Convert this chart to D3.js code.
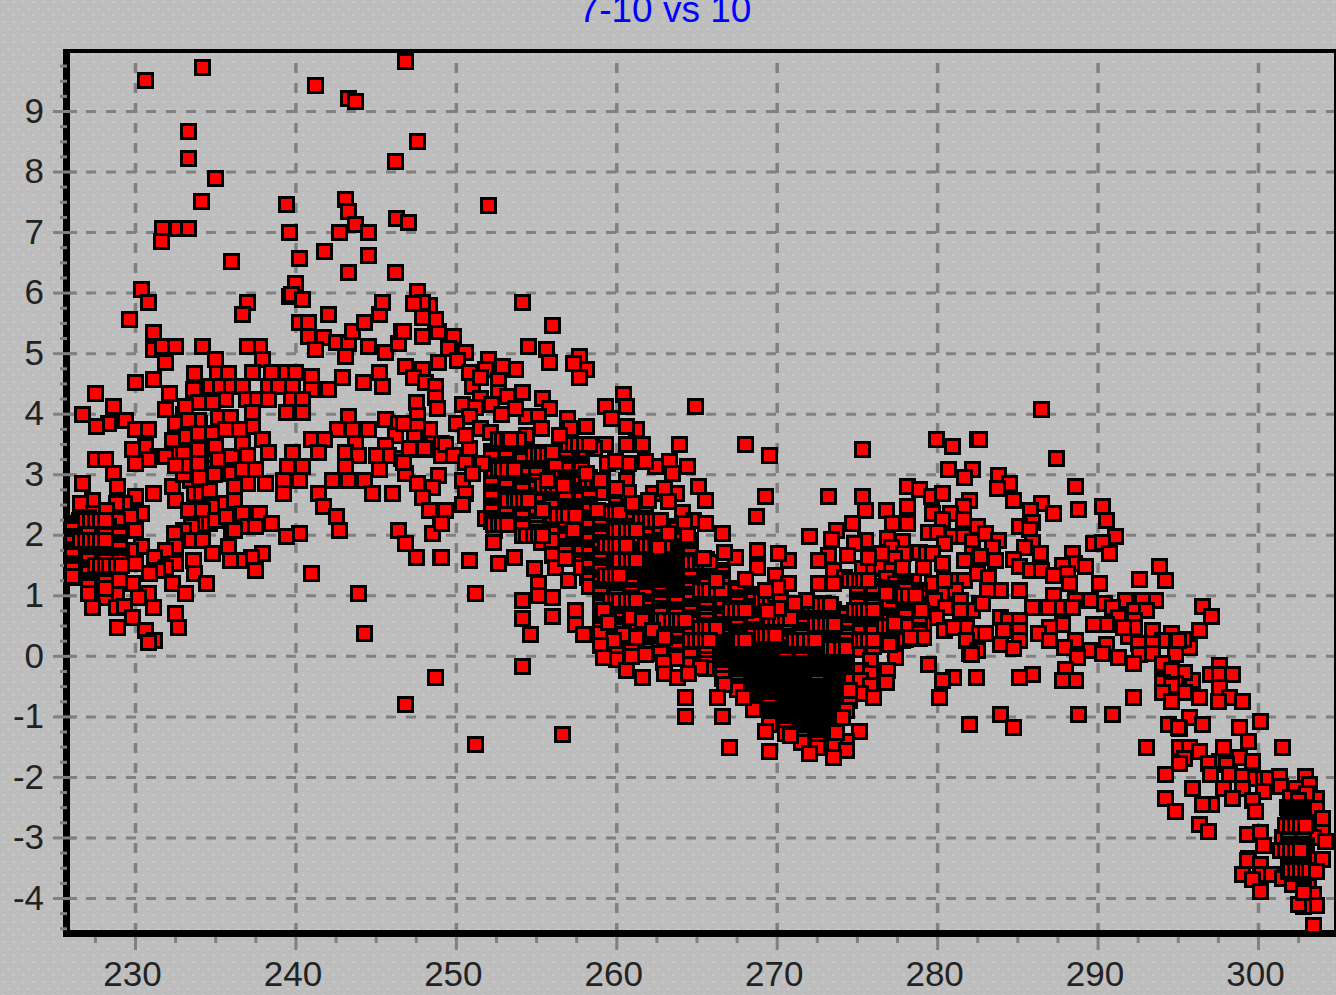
<!DOCTYPE html>
<html>
<head>
<meta charset="utf-8">
<script src="https://cdn.jsdelivr.net/npm/d3@7"></script>
<style>
    html, body { margin: 0; padding: 0; background: #c0c0c0; overflow: hidden; }
    text { font-family: "Liberation Sans", Arial, sans-serif; }
</style>
</head>
<body>
<svg id="chart" width="1336" height="995"></svg>
<script>
const TITLE = "7-10 vs 10";
const xTicks = [230, 240, 250, 260, 270, 280, 290, 300];
const yTicks = [9, 8, 7, 6, 5, 4, 3, 2, 1, 0, -1, -2, -3, -4];

// where markers pile up into a solid mass they can't be told apart: [x, [y, y, ...]]
const coreColumns = [
    [268.5, [1.02,.97,.92,.83,.78,.73,.64,.59,.54,.45,.4,.35,.26,.21,.16,.07,.02,-.03,-.08,-.13,-.18,-.23,-.28,-.33,-.38,-.43,-.48,-.53,-.58,-.63,-.68,-.73,-.78,-.83,-.88]],
    [269.5, [.98,.93,.84,.79,.74,.65,.6,.55,.46,.41,.36,.27,.22,.17,.08,.03,-.02,-.07,-.12,-.17,-.22,-.27,-.32,-.37,-.42,-.47,-.52,-.57,-.62,-.67,-.72,-.77,-.82,-.87,-.92,-.97,-1.02,-1.07,-1.13]],
    [270.5, [.85,.8,.71,.66,.61,.52,.47,.42,.33,.28,.23,.14,.09,.04,-.01,-.06,-.11,-.16,-.21,-.26,-.31,-.36,-.41,-.46,-.51,-.56,-.61,-.66,-.71,-.76,-.81,-.86,-.91,-.96,-1.01,-1.06,-1.11,-1.16,-1.21,-1.27]],
    [271.5, [.75,.7,.61,.56,.51,.42,.37,.32,.23,.18,.13,.04,-.01,-.06,-.11,-.16,-.21,-.26,-.31,-.36,-.41,-.46,-.51,-.56,-.61,-.66,-.71,-.76,-.81,-.86,-.91,-.96,-1.01,-1.06,-1.11,-1.16,-1.21,-1.26,-1.31,-1.36,-1.43]],
    [272.5, [.72,.67,.58,.53,.48,.39,.34,.29,.2,.15,.1,.01,-.04,-.09,-.14,-.19,-.24,-.29,-.34,-.39,-.44,-.49,-.54,-.59,-.64,-.69,-.74,-.79,-.84,-.89,-.94,-.99,-1.04,-1.09,-1.14,-1.19,-1.24,-1.29,-1.34,-1.39,-1.44,-1.5]],
    [273.5, [.78,.73,.64,.59,.54,.45,.4,.35,.26,.21,.16,.07,.02,-.03,-.08,-.13,-.18,-.23,-.28,-.33,-.38,-.43,-.48,-.53,-.58,-.63,-.68,-.73,-.78,-.83,-.88,-.93,-.98,-1.03,-1.08,-1.13,-1.18,-1.23,-1.28,-1.33,-1.39]],
    [274.3, [.7,.65,.56,.51,.46,.37,.32,.27,.18,.13,.08,-.01,-.06,-.11,-.16,-.21,-.26,-.31,-.36,-.41,-.46,-.51,-.56,-.61,-.66,-.72]]
];
const midColumns = [
    [259.0, [2.4,2.35,2.26,2.21,2.16,2.07,2.02,1.97,1.88,1.83,1.78,1.69,1.64,1.59,1.5,1.45,1.4,1.31,1.26,1.21,1.12,1.07,1.02,.93,.88,.83,.74,.69,.64,.55,.5,.45,.37]],
    [260.0, [2.56,2.51,2.42,2.37,2.32,2.23,2.18,2.13,2.04,1.99,1.94,1.85,1.8,1.75,1.66,1.61,1.56,1.47,1.42,1.37,1.28,1.23,1.18,1.09,1.04,.99,.9,.85,.8,.71,.66,.61,.52,.47,.42,.33,.28,.23,.13]],
    [260.9, [2.48,2.43,2.34,2.29,2.24,2.15,2.1,2.05,1.96,1.91,1.86,1.77,1.72,1.67,1.62,1.57,1.52,1.47,1.42,1.37,1.32,1.27,1.22,1.17,1.08,1.03,.98,.89,.84,.79,.7,.65,.6,.51,.46,.41,.32,.27,.22,.13,.08,-.01]],
    [261.8, [2.42,2.37,2.28,2.23,2.18,2.09,2.04,1.99,1.9,1.85,1.8,1.75,1.7,1.65,1.6,1.55,1.5,1.45,1.4,1.35,1.3,1.25,1.2,1.15,1.1,1.05,1,.91,.86,.81,.72,.67,.62,.53,.48,.43,.34,.29,.24,.15,.1,.03]],
    [262.7, [2.25,2.2,2.11,2.06,2.01,1.92,1.87,1.82,1.73,1.68,1.63,1.58,1.53,1.48,1.43,1.38,1.33,1.28,1.23,1.18,1.13,1.08,1.03,.98,.93,.88,.79,.74,.69,.6,.55,.5,.41,.36,.31,.22,.17,.12,.04]],
    [263.7, [2.15,2.1,2.01,1.96,1.91,1.82,1.77,1.72,1.67,1.62,1.57,1.52,1.47,1.42,1.37,1.32,1.27,1.22,1.17,1.12,1.07,1.02,.97,.92,.87,.78,.73,.68,.59,.54,.49,.4,.35,.3,.21,.16,.11,.02,-.04]],
    [264.6, [1.92,1.87,1.78,1.73,1.68,1.59,1.54,1.49,1.4,1.35,1.3,1.21,1.16,1.11,1.02,.97,.92,.83,.78,.73,.64,.59,.54,.45,.4,.35,.26,.21,.16,.07,.01]],
    [265.6, [1.6,1.55,1.46,1.41,1.36,1.27,1.22,1.17,1.08,1.03,.98,.89,.84,.79,.7,.65,.6,.51,.46,.41,.32,.27,.22,.13,.08,.03,-.06,-.11,-.2]],
    [266.6, [1.42,1.37,1.28,1.23,1.18,1.09,1.04,.99,.9,.85,.8,.71,.66,.61,.52,.47,.42,.37,.32,.27,.22,.17,.12,.07,.02,-.03,-.08,-.13,-.18,-.23,-.28,-.36]],
    [267.5, [1.12,1.07,.98,.93,.88,.79,.74,.69,.6,.55,.5,.41,.36,.31,.26,.21,.16,.11,.06,.01,-.04,-.09,-.14,-.19,-.24,-.29,-.34,-.39,-.44,-.49,-.55]]
];
const upperColumns = [
    [252.2, [3.38,3.33,3.28,3.16,3.11,3.06,2.94,2.89,2.84,2.72,2.67,2.62,2.5,2.45,2.4,2.28,2.23]],
    [253.1, [3.34,3.29,3.17,3.12,3.07,3.02,2.9,2.85,2.8,2.68,2.63,2.58,2.46,2.41,2.36,2.24,2.19]],
    [254.1, [3.33,3.28,3.23,3.11,3.06,3.01,2.89,2.84,2.79,2.74,2.62,2.57,2.52,2.4,2.35,2.3,2.18,2.13]],
    [255.0, [3.37,3.32,3.27,3.15,3.1,3.05,3,2.88,2.83,2.78,2.66,2.61,2.56,2.44,2.39,2.34,2.22,2.17,2.12,2.04]],
    [255.9, [3.28,3.23,3.18,3.06,3.01,2.96,2.84,2.79,2.74,2.69,2.57,2.52,2.47,2.35,2.3,2.25,2.13,2.08,2.03,1.92]],
    [256.8, [3.3,3.18,3.13,3.08,2.96,2.91,2.86,2.81,2.69,2.64,2.59,2.47,2.42,2.37,2.25,2.2,2.15,2.03,1.98,1.93,1.81,1.76,1.71,1.62]],
    [257.8, [3.18,3.13,3.08,2.96,2.91,2.86,2.74,2.69,2.64,2.59,2.47,2.42,2.37,2.25,2.2,2.15,2.03,1.98,1.93,1.81,1.76,1.71,1.59,1.54,1.46]],
    [258.3, [2.95,2.9,2.85,2.73,2.68,2.63,2.51,2.46,2.41,2.29,2.24,2.19,2.14,2.02,1.97,1.92,1.8,1.75,1.7,1.58,1.53,1.48,1.36,1.31,1.26,1.16]]
];
const rightColumns = [
    [275.0, [1.16,1.11,1.06,.94,.89,.84,.72,.67,.62,.5,.45,.4,.28,.23,.18,.12]],
    [276.0, [1.15,1.1,1.05,.93,.88,.83,.71,.66,.61,.49,.44,.39,.27,.22,.17]],
    [277.0, [1.12,1.07,1.02,.9,.85,.8,.68,.63,.58,.46,.41,.36,.24,.19]],
    [278.0, [1.19,1.14,1.09,.97,.92,.87,.75,.7,.65,.53,.48,.43,.31,.28]],
    [278.9, [1.08,1.03,.98,.86,.81,.76,.64,.59,.54,.42,.37,.3]]
];
const tailColumns = [
    [301.9, [-2.55,-2.6,-2.65,-2.7,-2.75,-2.8,-2.85,-2.9,-2.95,-3,-3.05,-3.1,-3.15,-3.2,-3.25,-3.3,-3.35,-3.4,-3.45,-3.5,-3.55]],
    [302.8, [-2.5,-2.55,-2.6,-2.65,-2.7,-2.75,-2.8,-2.85,-2.9,-2.95,-3,-3.05,-3.1,-3.15,-3.2,-3.25,-3.3,-3.35,-3.4,-3.45,-3.5,-3.55,-3.6,-3.65,-3.7,-3.75,-3.8,-3.85,-3.9]]
];
const leftLowColumns = [
    [226.1, [2.2,2.15,2.1,1.98,1.93,1.88,1.76,1.71,1.66,1.54,1.49,1.44,1.32]],
    [227.1, [2.3,2.25,2.13,2.08,2.03,1.91,1.86,1.81,1.69,1.64,1.59,1.47,1.42,1.37,1.25,1.2,1.15,1.03]],
    [228.1, [2.1,2.05,2,1.88,1.83,1.78,1.66,1.61,1.56,1.44,1.39,1.34,1.22,1.12]],
    [229.0, [2.05,2,1.88,1.83,1.78,1.66,1.61,1.56,1.44,1.39,1.34,1.25]]
];
const leftHighColumns = [
    [233.0, [4,3.9,3.8,3.7,3.6,3.5,3.4,3.3,3.2,3.1,3]],
    [234.0, [3.85,3.75,3.65,3.55,3.45,3.35,3.25,3.15,3.05,2.95]],
    [234.9, [3.6,3.5,3.4,3.3,3.2,3.1,3]]
];
// tight runs sitting on the dense parts, as [y, [x, x, ...]]
const denseRows = [
    [2.38, [259,259.3,259.6,259.9,260.2]],
    [2.25, [261.5,261.8,262.1,262.4,262.7]],
    [2.08, [259.9,260.2,260.6,260.9,261.2]],
    [1.83, [259.3,259.6,259.9,260.2,260.6]],
    [1.83, [261.8,262.1,262.4,262.7,263]],
    [1.59, [260.2,260.6,260.9,261.2]],
    [1.55, [264.6,264.9,265.2,265.5,265.8]],
    [1.34, [259.3,259.6,259.9,260.2]],
    [1.09, [265.2,265.5,265.8,266.2,266.5]],
    [.93, [259.6,259.9,260.2,260.6,260.9,261.2]],
    [.76, [267.1,267.4,267.7,268]],
    [.6, [262.7,263,263.4,263.7,264,264.3]],
    [.46, [265.2,265.5,265.8,266.2]],
    [.26, [264.6,264.9,265.2,265.5,265.8]],
    [.26, [267.7,268]],
    [.93, [269,269.3,269.6,269.9,270.2]],
    [.85, [272.1,272.4,272.7,273,273.3]],
    [.63, [269.6,269.9,270.2,270.5,270.8]],
    [.52, [272.4,272.7,273,273.3,273.6]],
    [.35, [269,269.3,269.6,269.9]],
    [.26, [271.1,271.4,271.7,272.1,272.4]],
    [.13, [273.3,273.6,274,274.3]],
    [3.58, [252.6,252.9,253.2,253.6,253.9]],
    [3.33, [254.8,255.1,255.4,255.7,256]],
    [3.08, [252.3,252.6,252.9,253.2,253.6]],
    [2.83, [255.4,255.7,256,256.3,256.7]],
    [2.58, [253.2,253.6,253.9,254.2,254.5]],
    [2.33, [256,256.3,256.7,257,257.4]],
    [2.17, [252.3,252.6,252.9,253.2]],
    [3.5, [257,257.3,257.6,258,258.3]],
    [2.91, [258.2,258.5,258.8,259]],
    [2, [254.1,254.4,254.8,255.1,255.4]],
    [1.26, [274.5,274.8,275.1,275.4,275.7]],
    [1.01, [277.3,277.6,277.9,278.2,278.6]],
    [.76, [274.8,275.1,275.4,275.7,276]],
    [.5, [276.7,277,277.3,277.6,278]],
    [.26, [275.1,275.4,275.7,276]],
    [1.92, [226.6,226.9,227.2,227.5,227.8,228.1]],
    [1.5, [227.5,227.8,228.1,228.4,228.8,229.1]],
    [2.25, [226.9,227.2,227.5,227.8,228.1]],
    [-2.79, [301.7,302,302.3,302.6,302.9]],
    [-3.21, [301.4,301.7,302,302.3,302.6]],
    [-3.54, [302,302.3,302.6,302.9,303.2]]
];

const topOutliers = [
    [230.6,9.51],[234.2,9.73],[233.3,8.67],[233.3,8.22],[235,7.89],[234.1,7.51],[231.7,7.07],[232.6,7.07],[233.3,7.07],[231.6,6.85],
    [236,6.52],[230.4,6.06],[230.8,5.84],[229.6,5.56],[241.2,9.43],[243.3,9.21],[243.7,9.17],[246.8,9.83],[247.6,8.5],[246.2,8.17],
    [252,7.45],[239.4,7.46],[239.6,7],[243.1,7.55],[243.3,7.35],[243.7,7.13],[242.7,7],[244.5,7],[246.3,7.23],[247,7.17],
    [241.8,6.68],[240.2,6.57],[244.5,6.62],[243.3,6.34],[246.2,6.34],[240,6.16],[239.6,5.95]
];
const leftUpper = [
    [231.1,5.35],[231.1,5.07],[231.7,5.12],[232.5,5.12],[234.2,5.12],[235,4.9],[231.9,4.85],[233.7,4.68],[235.1,4.68],[235.8,4.68],
    [230,4.52],[231.1,4.57],[233.6,4.4],[234.7,4.45],[235.3,4.45],[236,4.45],[227.5,4.35],[232.1,4.35],[235.6,4.24],[233.9,4.19],
    [234.8,4.19],[228.6,4.12],[231.9,4.07],[233.1,4.12],[226.7,4],[229.4,3.9],[228.3,3.84],[227.6,3.79],[232.5,3.84],[233.9,3.9],
    [233.3,3.9],[235.2,3.95],[235.9,3.95],[230,3.74],[230.8,3.74],[233.2,3.63],[233.9,3.68],[234.8,3.68],[235.6,3.74],[232.3,3.57],
    [230.6,3.46],[229.8,3.41],[235,3.46],[233.9,3.41],[232.5,3.35],[233,3.35],[231.4,3.3],[231.9,3.3],[227.5,3.25],[228.1,3.25],
    [230.8,3.25],[230,3.18],[235.2,3.25],[233.9,3.18],[233,3.15],[232.5,3.15],[236,3.3]
];
const leftLower = [
    [226.7,2.86],[228.6,3.02],[228.9,2.81],[231.1,2.69],[230,2.64],[227.3,2.58],[226.6,2.53],[229.3,2.53],[228.8,2.53],[232.3,2.81],
    [234.2,2.98],[233.4,2.91],[236,3.02],[233.7,2.69],[234.1,2.69],[234.6,2.74],[232.5,2.58],[235,2.48],[235.6,2.53],[227.4,2.36],
    [228.2,2.41],[230.4,2.36],[229.7,2.31],[228.9,2.25],[226.5,2.25],[233.3,2.41],[234.2,2.41],[235.6,2.31],[228.3,2.15],[227.5,2.08],
    [230,2.08],[227.1,2.03],[234.1,2.2],[234.6,2.2],[235,2.25],[233.5,2.15],[233,2.08],[232.4,2.03],[236,2.08],[226.4,1.92],
    [228.8,1.92],[233.5,1.92],[234.2,1.92],[230.4,1.82],[227.6,1.82],[232.5,1.82],[231.9,1.75],[229.7,1.75],[229.1,1.7],[235.8,1.82],
    [234.8,1.7],[226.6,1.64],[228.6,1.64],[231.2,1.64],[233.6,1.59],[235.9,1.59],[232.5,1.54],[230,1.54],[227.6,1.47],[231.9,1.47],
    [231.4,1.42],[230.9,1.37],[233.7,1.37],[228.9,1.37],[226.3,1.31],[228.3,1.31],[227.9,1.26],[227.5,1.21],[229.8,1.21],[232.3,1.21],
    [234.4,1.21],[228.8,1.04],[230.8,1.04],[233.1,1.04],[228.1,.98],[230.2,.98],[227.3,.81],[228.8,.81],[229.3,.83],[231.1,.81],
    [232.5,.71],[229.8,.64],[232.7,.48],[228.9,.48],[230.6,.43],[231.2,.26],[230.8,.23]
];
const midLeft = [
    [239.7,5.97],[240.4,5.9],[237,5.85],[236.7,5.64],[242,5.64],[240.2,5.52],[240.8,5.52],[240.8,5.29],[241.7,5.26],[242.5,5.19],
    [241.2,5.07],[243.3,5.16],[243.1,4.96],[237.7,5.12],[237,5.12],[237.9,4.91],[243.5,5.36],[244.3,5.52],[245.2,5.64],[245.4,5.85],
    [244.5,5.12],[245.6,5.02],[246.4,5.16],[246.6,5.36],[247.9,5.29],[248.9,5.36],[247.6,6.02],[248.3,5.8],[247.9,5.85],[248.7,5.57],
    [246.8,4.79],[248.9,4.86],[237.3,4.69],[238.5,4.69],[239.4,4.69],[240,4.69],[241,4.63],[242.9,4.6],[245.2,4.69],[236.7,4.46],
    [238.3,4.46],[238.9,4.46],[239.8,4.46],[241,4.41],[242,4.41],[244.2,4.53],[245.4,4.46],[247.9,4.73],[247.3,4.6],[248.1,4.53],
    [248.7,4.46],[248.7,4.28],[247.5,4.2],[248.8,4.1],[236.9,4.25],[237.6,4.25],[238.3,4.25],[239.7,4.25],[240.4,4.25],[239.4,4.02],
    [240.4,4.02],[237.3,4.02],[243.3,3.97],[245.6,3.92],[246.4,3.85],[247.6,3.98],[237.3,3.8],[236.5,3.75],[242.6,3.75],[243.5,3.75],
    [244.5,3.75],[237.9,3.59],[241,3.59],[241.8,3.59],[246.2,3.64],[248.3,3.75],[247.5,3.6],[247.6,3.8],[236.7,3.52],[243.7,3.52],
    [245.6,3.49],[248.6,3.52],[249.1,3.52],[247.5,3.42],[248.1,3.42],[238.3,3.36],[239.8,3.36],[241.4,3.36],[243.1,3.36],[243.9,3.31],
    [245.8,3.31],[245,3.31],[237,3.31],[246.6,3.26],[249.1,3.31],[239.5,3.14],[240.4,3.14],[243.1,3.14],[236.7,3.09],[237.5,3.09],
    [245.2,3.09],[246.8,3.02],[248.9,2.98],[239.2,2.91],[240.2,2.91],[242.3,2.91],[243.3,2.91],[244.3,2.91],[237,2.86],[238.1,2.86],
    [236.2,2.81],[248.5,2.79],[247.6,2.86],[241.4,2.69],[239.2,2.69],[244.8,2.69],[246,2.69],[236.2,2.58],[247.9,2.63],[241.7,2.48],
    [248.3,2.41],[236.7,2.36],[237.7,2.36],[235.7,2.31],[242.5,2.31],[249,2.2],[238.5,2.2],[237,2.15],[237.5,2.15],[236.2,2.08],
    [240.2,2.03],[239.4,1.98],[242.7,2.08],[246.4,2.08],[248.5,2.03],[246.8,1.87],[237.9,1.7],[237.2,1.64],[247.5,1.64],[249,1.64],
    [236.5,1.59],[235.9,1.59],[237.5,1.42],[241,1.37],[243.9,1.04],[244.3,.38],[248.7,-.35],[246.8,-.79],[251.2,-1.45]
];
const midCentre = [
    [254.1,5.85],[247.3,5.83],[247.9,5.6],[256,5.47],[246.7,5.36],[249.8,5.29],[254.5,5.12],[255.6,5.07],[249.5,5.09],[250.6,5.02],
    [257.7,4.96],[258.1,4.74],[255.8,4.86],[257.3,4.84],[257.7,4.6],[252,4.91],[250.1,4.89],[253.7,4.74],[252.9,4.79],[251.8,4.74],
    [250.8,4.69],[252.6,4.56],[251,4.46],[251.5,4.6],[254.1,4.36],[252.6,4.36],[253.2,4.3],[251.5,4.26],[255.4,4.26],[255.8,4.1],
    [250.4,4.16],[252.2,4.16],[253.7,4.1],[251.2,4.11],[250.8,3.97],[252.8,4],[254.4,3.97],[255.1,3.97],[256.9,3.93],[259.3,4.13],
    [259.7,3.93],[250,3.85],[246.7,3.85],[258.1,3.8],[251.5,3.77],[257.1,3.77],[255.3,3.77],[254.4,3.64],[250.6,3.64],[256.4,3.64],
    [252.1,3.69],[253.4,3.59],[247.4,3.62],[259.3,3.5],[249.3,3.5],[250.8,3.44],[248,3.44],[247.1,3.44],[254.2,3.36],[258.6,3.44],
    [258.1,3.45],[249.8,3.31],[256,3.37],[257.7,3.32],[251.6,3.19],[250.6,3.21],[256.2,3.19],[259.4,3.19],[255.4,3.19],[257.2,3.24],
    [246.7,3.21],[253.6,3.19],[258.1,3.02],[251,3.02],[254.8,3],[250.4,2.91],[255.7,2.91],[252.8,2.94],[259.1,2.91],[257.6,2.88],
    [253.7,2.86],[250.6,2.69],[255.9,2.71],[257.6,2.69],[255,2.74],[259,2.71],[256.8,2.74],[253.1,2.71],[252.3,2.61],[254.5,2.61],
    [256,2.53],[256.9,2.48],[250.4,2.51],[258.1,2.51],[249.3,2.41],[252.3,2.41],[255.4,2.41],[258.8,2.41],[254.5,2.45],[253.7,2.36],
    [256.6,2.3],[251.8,2.28],[249.1,2.2],[255.4,2.26],[253.5,2.18],[257.3,2.08],[255.7,2.05],[252.4,2.08],[254.3,2.12],[252.3,1.88],
    [257,1.9],[255.3,1.88],[256.2,1.87],[256,1.67],[256.8,1.64],[249.1,1.64],[250.8,1.59],[253.6,1.64],[252.6,1.54],[254.9,1.45],
    [256.2,1.47],[258.2,1.31],[257,1.26],[255.1,1.21],[251.2,1.04],[256,.98],[255.1,1.01],[254.1,.93],[257.4,.76],[256,.66],
    [254.1,.63],[254.6,.36],[257.4,.53],[257.9,.36],[254.1,-.17],[256.6,-1.29]
];
const midRightEdge = [
    [260.4,4.33],[260.6,4.13],[264.9,4.13],[261.2,3.75],[260.6,3.8],[260.6,3.5],[261.6,3.5],[263.9,3.5],[268,3.5],[269.5,3.31],
    [260.7,3.19],[262.4,3.14],[259.9,3.22],[261.8,3.22],[263.3,3.22],[264.4,3.14],[263.5,3.02],[260.6,2.91],[265.1,2.81],[260.7,2.71],
    [263.7,2.69],[262.3,2.69],[260,2.78],[263,2.78],[265.5,2.58],[269.3,2.64],[261,2.53],[262,2.58],[263.2,2.55],[264.1,2.38],
    [268.7,2.31],[264.8,2.25],[264.2,2.2],[265.5,2.2],[263.2,2.03],[264.4,2],[266.6,2.03],[262.6,1.79],[268.8,1.75],[267.4,1.64],
    [270.7,1.59],[270.1,1.7],[265.4,1.62],[268.8,1.47],[266.7,1.72],[269.9,1.34],[268,1.27],[270.7,1.21],[270,1.14],[266.2,1.26],
    [269.3,1.09],[271.8,.93],[270.1,.79],[269.4,.74],[271.1,.88]
];
const midLowerEdge = [
    [259.2,.76],[259.5,.56],[260.9,.64],[261.6,.6],[262.2,.43],[260.4,.36],[261.2,.31],[263,.31],[259.8,.26],[259,.18],
    [260,-.05],[259.2,-.02],[260.6,-.23],[261.6,-.35],[262.9,-.1],[263,-.28],[264.6,-.13],[265.2,-.18],[263.8,-.35],[264.5,-.28],
    [266.7,-.46],[264.3,-.68],[266.3,-.68],[267.9,-.68],[264.3,-.99],[266.6,-.99],[267,-1.5]
];
const rightWing = [
    [275.3,3.42],[279.9,3.59],[280.9,3.47],[282.5,3.59],[280.7,3.09],[282.2,3.09],[281.7,2.96],[278.1,2.81],[278.9,2.76],[279.6,2.64],
    [280.3,2.69],[273.2,2.64],[275.3,2.64],[282,2.58],[275.5,2.41],[278.1,2.48],[276.8,2.41],[281.6,2.48],[279.7,2.36],[280.8,2.36],
    [281.6,2.26],[274.7,2.2],[278.1,2.2],[277.2,2.2],[280.3,2.26],[273.7,2.08],[282.5,2.15],[272,1.98],[279.4,2.05],[280,2.05],
    [275.5,1.92],[276.9,1.95],[277.8,1.9],[274.8,1.87],[273.4,1.93],[280.9,1.98],[281.6,1.98],[282.2,1.9],[280.4,1.87],[273.2,1.67],
    [274.4,1.67],[275.7,1.64],[277.1,1.79],[277.9,1.7],[272.6,1.59],[277.3,1.62],[276.5,1.7],[282.2,1.7],[278.9,1.72],[279.3,1.7],
    [279.7,1.7],[280.3,1.54],[281.7,1.59],[282.6,1.64],[273.5,1.42],[274.2,1.31],[275.3,1.45],[276,1.45],[276.5,1.47],[277.1,1.42],
    [277.8,1.47],[279.1,1.47],[272.6,1.21],[273.5,1.21],[278.5,1.24],[276.8,1.29],[277.4,1.21],[280.4,1.26],[280.9,1.26],[281.7,1.26],
    [282.5,1.37],[275.3,1.26],[276.4,1.14],[279.7,1.21],[276.8,1.04],[278.6,1.01],[280.4,1.04],[281.1,1.09],[272.9,.88],[276.3,.96],
    [275.5,1.01],[279.8,.93],[281.4,.93],[282.6,.88],[276.6,.79],[280.5,.81],[279,.76],[282.2,.76],[278.3,.71],[281.4,.76],
    [279.9,.64],[279.1,.71],[276.6,.6],[279.1,.55],[277.3,.55],[281.8,.48],[280.4,.43],[281,.48],[278.3,.48],[282.6,.38],
    [279.1,.31],[278.3,.31],[277.8,.26],[281.8,.26],[276.9,.23],[275.8,.15],[282.5,.1],[282,.05],[277.4,-.02],[279.4,-.13]
];
const coreEdge = [
    [275.8,-.07],[276.9,-.23],[275.2,-.23],[275.8,-.28],[281,-.35],[280.3,-.4],[282.4,-.35],[274.6,-.4],[276.8,-.43],[275.2,-.4],
    [275.8,-.48],[280.1,-.68],[275.2,-.61],[274.5,-.73],[276,-.68],[274.5,-.56],[282,-1.12],[275.1,-1.24],[269.3,-1.24],[270.8,-1.31],
    [274.3,-1.4],[273.6,-1.44],[269.5,-1.57],[272,-1.6],[274.3,-1.55],[273.5,-1.67],[274.3,-.89],[274.1,-1.01],[273.7,-1.26]
];
const farRight = [
    [286.5,4.08],[282.6,3.59],[287.4,3.26],[283.8,2.99],[284.5,2.86],[288.6,2.81],[283.7,2.78],[284.7,2.58],[286.5,2.53],[285.8,2.41],
    [287.2,2.36],[288.8,2.43],[290.3,2.48],[290.5,2.25],[285.9,2.21],[285.1,2.15],[285.7,2.1],[291.1,1.98],[283,2.03],[283.8,1.92],
    [285.9,1.88],[289.7,1.87],[290.3,1.88],[285.4,1.79],[286.4,1.7],[290.7,1.7],[283.4,1.79],[282.7,1.65],[283.6,1.59],[288.4,1.7],
    [293.8,1.49],[284.7,1.6],[288.5,1.54],[287.8,1.5],[285.1,1.49],[289.2,1.49],[285.8,1.42],[286.5,1.42],[287.2,1.34],[288.1,1.37],
    [283.2,1.31],[292.6,1.27],[294.2,1.26],[288.2,1.21],[290.1,1.21],[283.9,1.09],[283.1,1.09],[285.1,1.09],[287.2,1],[282.8,.88],
    [289.5,.93],[293.6,.93],[291.7,.93],[288.6,.93],[290.4,.88],[290.9,.81],[292.8,.93],[285.9,.81],[287.5,.81],[286.9,.81],
    [288.4,.81],[292.3,.76],[293,.76],[283.9,.64],[291.3,.64],[284.4,.6],[285.1,.6],[292.3,.6],[290.5,.53],[289.7,.53],
    [287.8,.53],[287,.48],[284.1,.43],[285.1,.43],[286.3,.38],[283,.38],[291.9,.33],[292.3,.48],[291.6,.48],[293.4,.43],
    [294.6,.38],[287,.26],[288.6,.26],[285.1,.26],[294,.26],[295,.26],[283.9,.2],[290.5,.2],[293.4,.21],[292.5,.21],
    [284.7,.13],[287.9,.15],[289.5,.1],[282.1,.03],[290.3,.05],[292.6,.03],[293.4,.05],[291.3,-.02],[294.8,.03],[288.7,-.02],
    [292.2,-.12],[294,-.12],[294.6,-.23],[288,-.21],[285.9,-.3],[285.1,-.35],[288.6,-.4],[287.8,-.4],[294,-.43],[294.6,-.48],
    [294,-.6],[292.2,-.68],[294.6,-.74],[283.9,-.96],[288.8,-.96],[290.9,-.96],[284.7,-1.17],[294.4,-1.12],[295,-1.17]
];
const tail = [
    [296.5,.83],[297.1,.66],[296.3,.43],[295.7,.15],[295.3,.28],[294,-.15],[297.6,-.15],[297,-.3],[297.6,-.3],[298.4,-.3],
    [295.9,-.4],[295.4,-.26],[294.8,-.45],[297.6,-.51],[295.4,-.6],[296.3,-.68],[298.2,-.68],[297.5,-.74],[299,-.74],[295.7,-1.01],
    [296.5,-1.12],[300.1,-1.07],[295.1,-1.19],[298.8,-1.17],[299.4,-1.4],[293,-1.5],[295.1,-1.5],[295.7,-1.5],[297.8,-1.5],[301.5,-1.5],
    [296.3,-1.57],[298.8,-1.67],[299.6,-1.74],[295.4,-1.69],[297.6,-1.74],[296.9,-1.77],[295.1,-1.77],[298,-1.79],[294.2,-1.95],[298.2,-1.95],
    [297,-1.95],[299,-1.98],[299.8,-2.02],[300.3,-2.02],[300.6,-2.02],[301.3,-1.98],[302.9,-1.98],[295.9,-2.18],[297.8,-2.18],[299,-2.18],
    [300.3,-2.23],[301.4,-2.15],[302.3,-2.18],[303.2,-2.12],[294.2,-2.35],[298.4,-2.35],[297.1,-2.45],[296.5,-2.45],[299.6,-2.38],[303.6,-2.35],
    [303,-2.27],[302,-2.33],[302.5,-2.38],[294.8,-2.56],[299.8,-2.56],[301.8,-2.5],[303.6,-2.51],[304,-2.68],[296.3,-2.78],[296.9,-2.89],
    [302.2,-2.86],[303.4,-2.83],[304,-2.83],[299.3,-2.94],[300.1,-2.91],[300.3,-3.12],[304.2,-3.06],[301.5,-2.99],[303.4,-3],[302.5,-3.12],
    [303,-3.12],[301.8,-3.19],[299.4,-3.34],[304,-3.36],[299.3,-3.37],[299,-3.6],[300.1,-3.44],[300.2,-3.6],[300.8,-3.6],[299.6,-3.69],
    [301.5,-3.67],[302.1,-3.77],[300.1,-3.88],[303.6,-3.55],[302.2,-3.59],[303.1,-3.8],[303.4,-3.93],[303.6,-4.11],[302.8,-4.13],[303.4,-4.45],
    [303.1,-3.36],[302.5,-4.1]
];
// markers that stay whole on top of the dense parts
const wholeMarkers = [
    [250.8,3.44],[251.6,3.19],[256.2,3.19],[258.1,3.02],[255.7,2.91],[256,3.37],[250.6,3.64],[256.4,3.64],[253.4,3.59],[251,3.02],
    [255.4,2.41],[258.8,2.41],[257.3,2.08],[252.3,1.88],[253.7,4.1],[275.7,1.64],[276.8,1.04],[279,.76],[279.1,.31],[278.3,.31],
    [280.4,1.26],[277.3,.55],[304,-2.68],[304.2,-3.06],[304,-3.36],[303.6,-3.55]
];

const flatten = columns => columns.flatMap(([x, ys]) => ys.map(y => [x, y]));
const flattenRows = rows => rows.flatMap(([y, xs]) => xs.map(x => [x, y]));

const points = [
    ...leftLower, ...flatten(leftLowColumns), ...flatten(leftHighColumns), ...leftUpper, ...topOutliers,
    ...midLeft, ...midCentre, ...flatten(upperColumns),
    ...rightWing, ...flatten(rightColumns), ...flatten(midColumns), ...flatten(coreColumns),
    ...tail, ...flatten(tailColumns), ...flattenRows(denseRows),
    ...midRightEdge, ...midLowerEdge, ...coreEdge, ...farRight, ...wholeMarkers
];

const WIDTH = 1336;
const HEIGHT = 995;
const PLOT = { left: 66, right: 1335, top: 50, bottom: 933 };

const xScale = d3.scaleLinear().domain([230, 300]).range([135, 1258]);
const yScale = d3.scaleLinear().domain([9, -4]).range([111, 898]);
const xMinor = d3.range(227.5, 304, 2.5).filter(v => !xTicks.includes(v));
const yMinor = d3.range(-4.5, 10, 0.25).filter(v => !yTicks.includes(v) && yScale(v) > PLOT.top && yScale(v) < PLOT.bottom);

const svg = d3.select("#chart");

const defs = svg.append("defs");
const dither = defs.append("pattern")
    .attr("id", "dither")
    .attr("patternUnits", "userSpaceOnUse")
    .attr("width", 20)
    .attr("height", 20);
dither.append("rect").attr("width", 20).attr("height", 20).attr("fill", "#bdbdbd");
[[2, 1], [12, 1], [7, 8], [17, 8], [2, 14], [12, 14]].forEach(([x, y]) => dither.append("rect")
    .attr("x", x)
    .attr("y", y)
    .attr("width", 3)
    .attr("height", 2)
    .attr("fill", "#c8c8c8"));

svg.append("rect")
    .attr("width", WIDTH)
    .attr("height", HEIGHT)
    .attr("fill", "url(#dither)");

svg.append("text")
    .attr("x", 665)
    .attr("y", 22)
    .attr("text-anchor", "middle")
    .attr("font-size", 37)
    .attr("fill", "#0000ff")
    .text(TITLE);

const styleGrid = (width, dash) => g => {
    g.select(".domain").remove();
    g.selectAll("text").remove();
    g.selectAll("line")
        .attr("stroke", "#808080")
        .attr("stroke-width", width)
        .attr("stroke-dasharray", dash);
};

svg.append("g")
    .attr("transform", `translate(0, ${ PLOT.bottom })`)
    .call(d3.axisBottom(xScale).tickValues(xTicks).tickSize(-(PLOT.bottom - PLOT.top)))
    .call(styleGrid(3.5, "10 10"));

svg.append("g")
    .attr("transform", `translate(${ PLOT.left }, 0)`)
    .call(d3.axisLeft(yScale).tickValues(yTicks).tickSize(-(PLOT.right - PLOT.left)))
    .call(styleGrid(3, "10 10"));

// frame: heavy on the left and bottom, thin on the top and right
const frame = svg.append("g").attr("fill", "#000");
frame.append("rect").attr("x", 63).attr("y", 49).attr("width", 7).attr("height", 888);
frame.append("rect").attr("x", 63).attr("y", 49).attr("width", 1273).attr("height", 4);
frame.append("rect").attr("x", 63).attr("y", 930).attr("width", 1273).attr("height", 7);
frame.append("rect").attr("x", 1334).attr("y", 49).attr("width", 2).attr("height", 888);

const styleTicks = g => {
    g.select(".domain").remove();
    g.selectAll("line").attr("stroke", "#808080").attr("stroke-width", 3);
};

svg.append("g")
    .attr("transform", "translate(0, 937)")
    .call(d3.axisBottom(xScale).tickValues(xMinor).tickSize(6).tickFormat(""))
    .call(styleTicks);

svg.append("g")
    .attr("transform", "translate(0, 937)")
    .call(d3.axisBottom(xScale).tickValues(xTicks).tickSize(13).tickPadding(11))
    .call(styleTicks)
    .call(g => g.selectAll("text")
        .attr("font-size", 35)
        .attr("dx", -3)
        .attr("fill", "#222")
        .attr("font-family", "Liberation Sans"));

svg.append("g")
    .attr("transform", "translate(67, 0)")
    .call(d3.axisLeft(yScale).tickValues(yMinor).tickSize(7).tickFormat(""))
    .call(styleTicks);

svg.append("g")
    .attr("transform", "translate(77, 0)")
    .call(d3.axisLeft(yScale).tickValues(yTicks).tickSize(24).tickPadding(9).tickFormat(d => String(d)))
    .call(styleTicks)
    .call(g => g.selectAll("text")
        .attr("font-size", 35)
        .attr("fill", "#222")
        .attr("font-family", "Liberation Sans"));

svg.append("g")
    .selectAll("rect")
    .data(points)
    .join("rect")
    .attr("x", d => Math.round(xScale(d[0])) - 6.5)
    .attr("y", d => Math.round(yScale(d[1])) - 6.5)
    .attr("width", 14)
    .attr("height", 14)
    .attr("fill", "#ff0000")
    .attr("stroke", "#000")
    .attr("stroke-width", 3);
</script>
</body>
</html>
